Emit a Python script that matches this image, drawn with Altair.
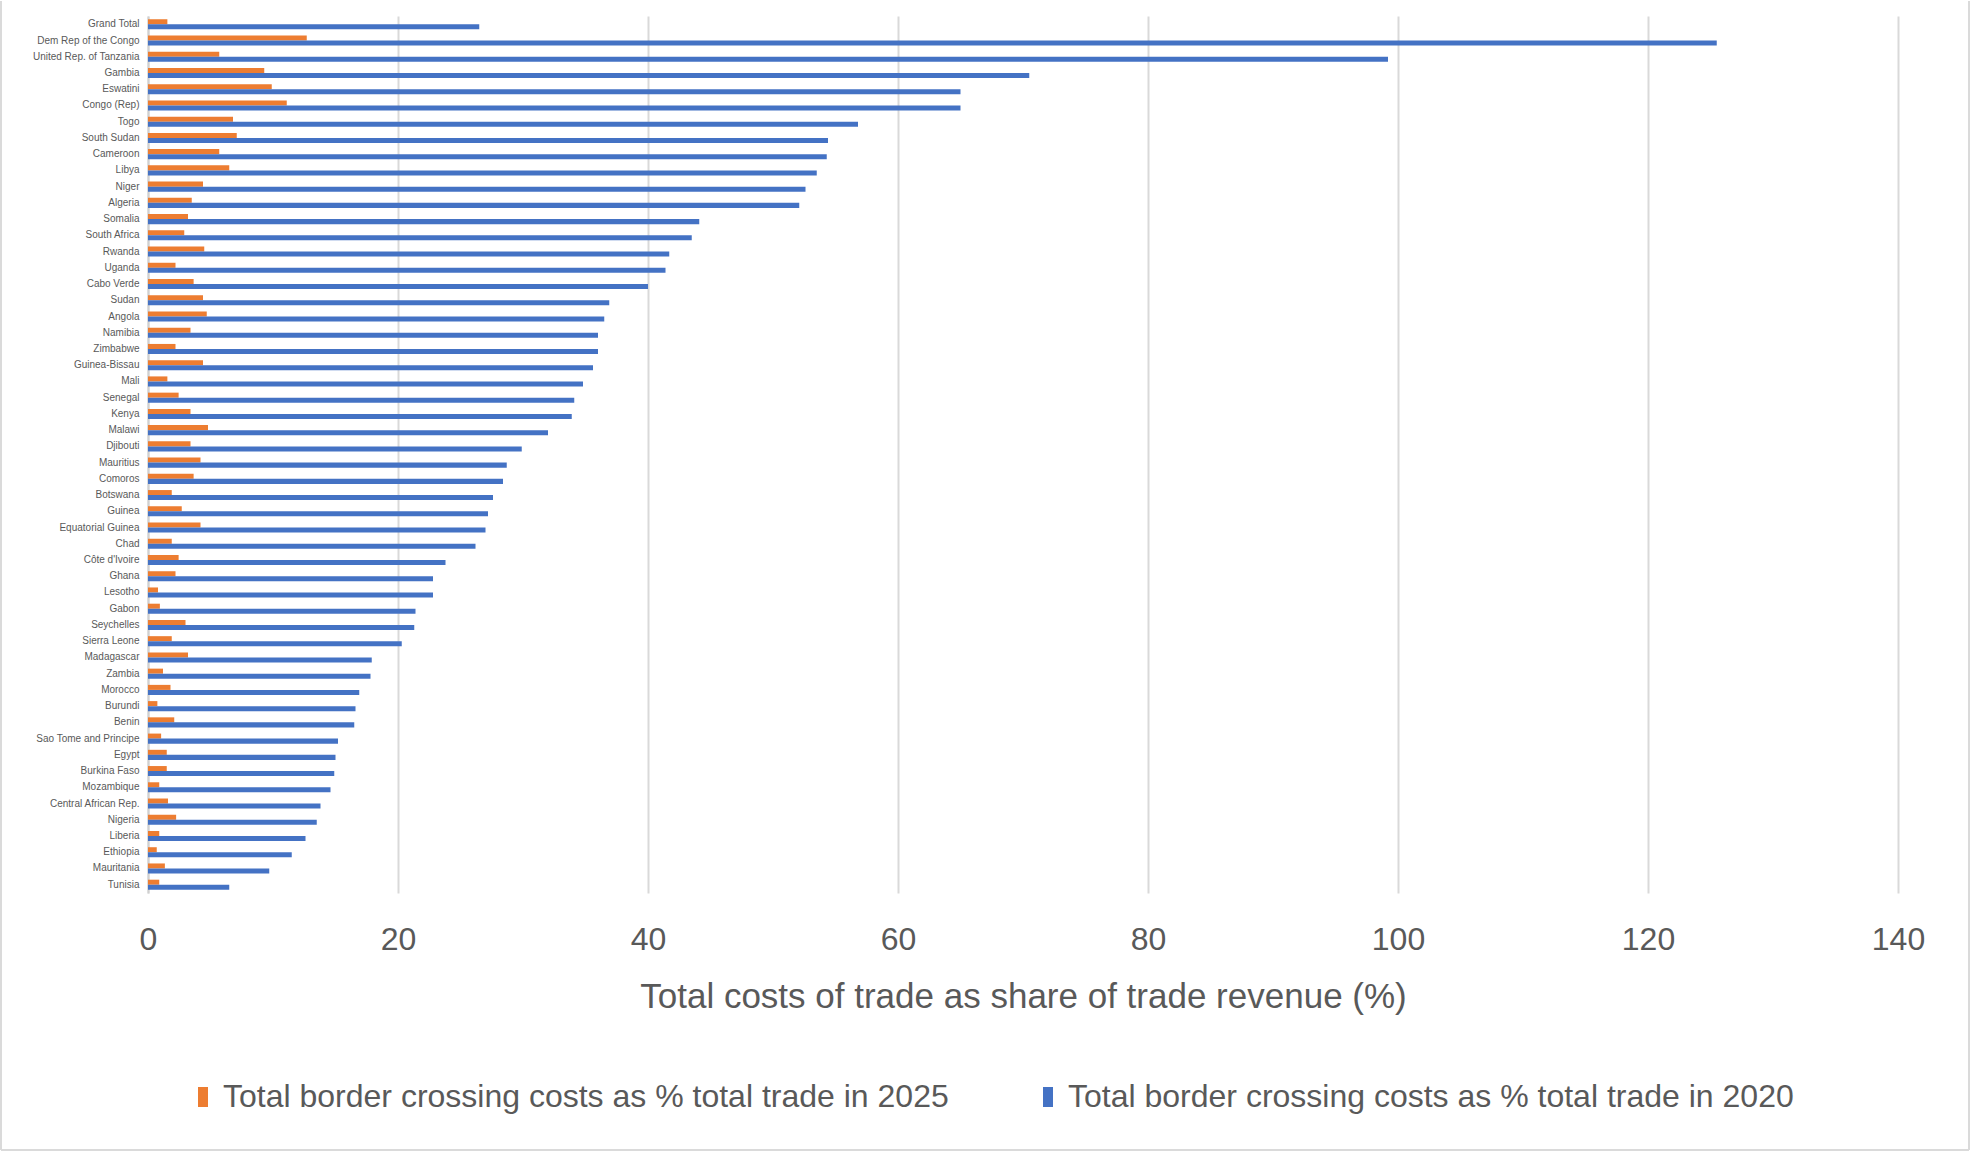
import altair as alt
import pandas as pd

countries = [
    "Grand Total", "Dem Rep of the Congo", "United Rep. of Tanzania", "Gambia", "Eswatini",
    "Congo (Rep)", "Togo", "South Sudan", "Cameroon", "Libya", "Niger", "Algeria", "Somalia",
    "South Africa", "Rwanda", "Uganda", "Cabo Verde", "Sudan", "Angola", "Namibia", "Zimbabwe",
    "Guinea-Bissau", "Mali", "Senegal", "Kenya", "Malawi", "Djibouti", "Mauritius", "Comoros",
    "Botswana", "Guinea", "Equatorial Guinea", "Chad", "Côte d'Ivoire", "Ghana", "Lesotho",
    "Gabon", "Seychelles", "Sierra Leone", "Madagascar", "Zambia", "Morocco", "Burundi", "Benin",
    "Sao Tome and Principe", "Egypt", "Burkina Faso", "Mozambique", "Central African Rep.",
    "Nigeria", "Liberia", "Ethiopia", "Mauritania", "Tunisia",
]

costs_2025 = [
    1.55, 12.7, 5.7, 9.3, 9.9, 11.1, 6.8, 7.1, 5.7, 6.5, 4.4, 3.5, 3.2,
    2.9, 4.5, 2.2, 3.65, 4.4, 4.7, 3.4, 2.2, 4.4, 1.55, 2.45, 3.4, 4.8, 3.4, 4.2, 3.65,
    1.9, 2.7, 4.2, 1.9, 2.45, 2.2, 0.8, 0.95, 3.0, 1.9, 3.2, 1.2, 1.8, 0.75, 2.1,
    1.05, 1.5, 1.5, 0.9, 1.6, 2.25, 0.9, 0.7, 1.35, 0.9,
]

costs_2020 = [
    26.5, 125.5, 99.2, 70.5, 65.0, 65.0, 56.8, 54.4, 54.3, 53.5, 52.6, 52.1, 44.1,
    43.5, 41.7, 41.4, 40.0, 36.9, 36.5, 36.0, 36.0, 35.6, 34.8, 34.1, 33.9, 32.0, 29.9,
    28.7, 28.4, 27.6, 27.2, 27.0, 26.2, 23.8, 22.8, 22.8, 21.4, 21.3, 20.3, 17.9, 17.8,
    16.9, 16.6, 16.5, 15.2, 15.0, 14.9, 14.6, 13.8, 13.5, 12.6, 11.5, 9.7, 6.5,
]

series_names = [
    "Total border crossing costs as % total trade in 2025",
    "Total border crossing costs as % total trade in 2020",
]
series_colors = ["#ED7D31", "#4472C4"]
x_ticks = [0, 20, 40, 60, 80, 100, 120, 140]

rows = []
for c, v25, v20 in zip(countries, costs_2025, costs_2020):
    rows.append({"country": c, "series": series_names[0], "value": v25})
    rows.append({"country": c, "series": series_names[1], "value": v20})
df = pd.DataFrame(rows)

font = "Liberation Sans"
grey = "#595959"
border = "#DADADA"

bars = alt.Chart(df).mark_bar().encode(
    y=alt.Y(
        "country:N",
        sort=countries,
        scale=alt.Scale(domain=countries, paddingInner=0.38, paddingOuter=0.2),
        axis=alt.Axis(
            title=None, ticks=False, labelFontSize=10, labelColor=grey, labelFont=font,
            labelPadding=9, domainColor="#D0D0D0", domainWidth=2,
            minExtent=140, maxExtent=140, labelLimit=135,
        ),
    ),
    yOffset=alt.YOffset("series:N", scale=alt.Scale(domain=series_names)),
    x=alt.X(
        "value:Q",
        scale=alt.Scale(domain=[0, 140], nice=False),
        axis=alt.Axis(
            values=x_ticks, title="Total costs of trade as share of trade revenue (%)",
            titleFontSize=35, titleFont=font, titleFontWeight="normal", titleColor=grey,
            titlePadding=24, labelFontSize=32, labelFont=font, labelColor=grey,
            labelPadding=31, labelFlush=False, ticks=False, domain=False, grid=True,
            gridColor="#D9D9D9", gridWidth=2,
        ),
    ),
    color=alt.Color(
        "series:N",
        scale=alt.Scale(domain=series_names, range=series_colors),
        legend=alt.Legend(
            title=None, orient="none", legendX=39, legendY=1065, direction="horizontal",
            labelFontSize=32, labelFont=font, labelColor=grey, columnPadding=83,
            labelLimit=0, symbolType="M-0.5,-1H0.5V1H-0.5Z", symbolSize=400,
            symbolOpacity=1, labelOffset=4,
        ),
    ),
)

frame = pd.DataFrame({"k": [0]})
left_edge = alt.Chart(frame).mark_rule(color=border, strokeWidth=2).encode(
    x=alt.value(-147), y=alt.value(-15), y2=alt.value(1134)
)
right_edge = alt.Chart(frame).mark_rule(color=border, strokeWidth=2).encode(
    x=alt.value(1821), y=alt.value(-15), y2=alt.value(1134)
)
bottom_edge = alt.Chart(frame).mark_rule(color=border, strokeWidth=2).encode(
    x=alt.value(-147), x2=alt.value(1821), y=alt.value(1134)
)

chart = alt.layer(bars, left_edge, right_edge, bottom_edge).properties(
    width=1750,
    height=877,
    background="white",
    padding={"left": 0, "top": 0, "right": 8, "bottom": 2},
).configure_view(strokeWidth=0)

chart.save("out.html", embed_options={"renderer": "svg", "actions": False})
